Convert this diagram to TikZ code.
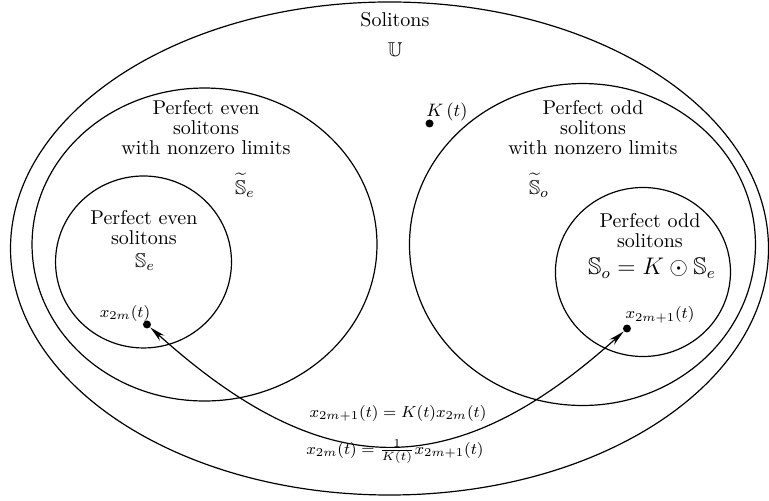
\documentclass[tikz,border=0pt]{standalone}
\usepackage{amsmath, amssymb}
\usetikzlibrary{arrows.meta}

\begin{document}
\begin{tikzpicture}[scale=1.0,
      set/.style={semithick},
      lbl/.style={align=center, font=\fontsize{10}{10}\selectfont},
      sml/.style={font=\footnotesize},
      dot/.style={circle, fill, inner sep=0pt, minimum size=4pt}]
   \useasboundingbox (0,0) rectangle (13.514,8.804);
   % Sets
   \draw[set] (6.845,4.437) ellipse (6.660 and 4.332);
   \draw[set] (3.594,4.507) ellipse (3.031 and 2.750);
   \draw[set] (2.522,4.200) ellipse (1.546 and 1.511);
   \draw[set] (10.236,4.507) ellipse (3.040 and 2.829);
   \draw[set] (11.299,4.024) ellipse (1.538 and 1.485);
   % Labels of the sets
   \node[lbl] (univ) at (6.941,8.453) {Solitons};
   \node (U) at (6.941,7.925) {$\mathbb{U}$};
   \node[lbl] (evenlim) at (3.620,6.555) {Perfect even\\solitons\\with nonzero limits};
   \node (Setilde) at (4.305,5.553) {$\widetilde{\mathbb{S}\rule{0pt}{8pt}}_e$};
   \node[lbl] (oddlim) at (10.421,6.555) {Perfect odd\\solitons\\with nonzero limits};
   \node (Sotilde) at (9.472,5.553) {$\widetilde{\mathbb{S}\rule{0pt}{8pt}}_o$};
   \node[lbl] (even) at (2.530,4.798) {Perfect even\\solitons};
   \node (Se) at (2.548,4.200) {$\mathbb{S}_e$};
   \node[lbl] (odd) at (11.422,4.745) {Perfect odd\\solitons};
   \node[font=\large] (So) at (11.457,4.094) {$\mathbb{S}_o = K \odot \mathbb{S}_e$};
   % K(t)
   \node[dot] (K) at (7.548,6.634) {};
   \node[font=\small] (Klbl) at (7.855,6.836) {$K\left(t\right)$};
   % Points and the map between them
   \node[dot] (xe) at (2.583,3.102) {};
   \node[sml] (xelbl) at (2.197,3.295) {$x_{2m}(t)$};
   \node[dot] (xo) at (11.018,3.031) {};
   \node[sml] (xolbl) at (11.598,3.269) {$x_{2m+1}(t)$};
   \draw[set, {Stealth[length=8pt,width=3.5pt]}-{Stealth[length=8pt,width=3.5pt]}]
      (xe) to[out=-42, in=-138, looseness=1.25] (xo);
   \node[sml] (fwd) at (6.994,1.546) {$x_{2m+1}(t) = K(t)x_{2m}(t)$};
   \node[sml] (bwd) at (6.941,0.866) {$x_{2m}(t) = \frac{1}{K(t)}x_{2m+1}(t)$};
\end{tikzpicture}
\end{document}
